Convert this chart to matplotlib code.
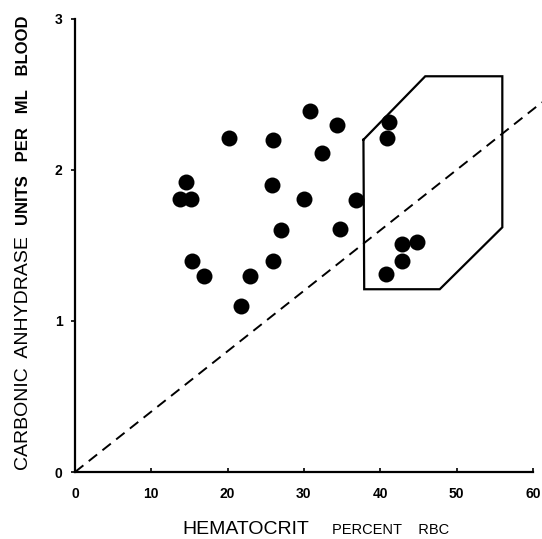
import matplotlib
matplotlib.use("Agg")
import matplotlib.pyplot as plt

# Data (hematocrit %, carbonic anhydrase units/ml blood)
hematocrit = [30.8, 34.3, 20.2, 25.9, 32.4, 41.2, 40.9, 14.5, 13.7, 15.2,
              25.8, 30.0, 36.8, 27.0, 34.7, 15.3, 16.9, 22.9, 25.9, 21.8,
              42.8, 44.8, 42.8, 40.8]
carbonic = [2.39, 2.30, 2.21, 2.20, 2.11, 2.32, 2.21, 1.92, 1.81, 1.81,
            1.90, 1.81, 1.80, 1.60, 1.61, 1.40, 1.30, 1.30, 1.40, 1.10,
            1.51, 1.52, 1.40, 1.31]

# Enclosing polygon (region)
poly_x = [37.8, 45.9, 56.0, 56.0, 47.8, 37.9, 37.8]
poly_y = [2.20, 2.62, 2.62, 1.62, 1.21, 1.21, 2.20]

# Dashed reference line
line_x = [0, 61.2]
line_y = [0, 61.2 / 25.0]

xticks = [0, 10, 20, 30, 40, 50, 60]
xticklabels = ["0", "10", "20", "30", "40", "50", "60"]
yticks = [0, 1, 2, 3]
yticklabels = ["0", "1", "2", "3"]

W, H = 542, 539
fig = plt.figure(figsize=(W / 100, H / 100), dpi=100)
ax = fig.add_axes([75 / W, (H - 472) / H, (W - 75) / W, 472 / H])
ax.set_xlim(0, 61.2)
ax.set_ylim(0, 3.125)

ax.plot(line_x, line_y, color="black", lw=1.4, dashes=(5.5, 3.5), clip_on=False)
ax.plot(poly_x, poly_y, color="black", lw=1.6, solid_joinstyle="miter")
ax.plot(hematocrit, carbonic, "o", color="black", markersize=11.5, markeredgewidth=0)

for s in ["top", "right"]:
    ax.spines[s].set_visible(False)
ax.spines["left"].set_bounds(0, 3)
ax.spines["bottom"].set_bounds(0, 60)
ax.spines["left"].set_linewidth(1.6)
ax.spines["bottom"].set_linewidth(1.6)

ax.set_xticks(xticks)
ax.set_xticklabels(xticklabels, fontsize=10, fontweight="bold", family="Liberation Sans")
ax.set_yticks(yticks)
ax.set_yticklabels(yticklabels, fontsize=10, fontweight="bold", family="Liberation Sans")
ax.tick_params(axis="x", direction="in", length=3, width=1.2, pad=11)
ax.tick_params(axis="y", direction="out", length=3, width=1.2, pad=6)

# Axis labels as composite text
fig.text(182 / W, (H - 534) / H, "HEMATOCRIT", fontsize=14, family="Liberation Sans",
         ha="left", va="baseline")
fig.text(332 / W, (H - 534) / H, "PERCENT    RBC", fontsize=10.5, family="Liberation Sans",
         ha="left", va="baseline")

fig.text(28 / W, (H - 470) / H, "CARBONIC  ANHYDRASE", fontsize=14, family="Liberation Sans",
         rotation=90, ha="left", va="baseline", rotation_mode="anchor")
fig.text(28 / W, (H - 225) / H, "UNITS   PER   ML   BLOOD", fontsize=12, family="Liberation Sans",
         fontweight="bold", rotation=90, ha="left", va="baseline", rotation_mode="anchor")

fig.savefig("out.png", dpi=100)
